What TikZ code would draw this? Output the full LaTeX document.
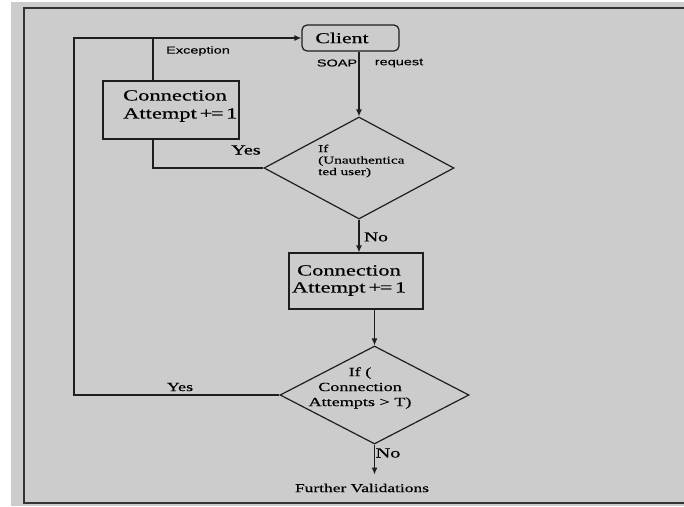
\documentclass[tikz,border=0pt]{standalone}
\usepackage{fontspec}
\usetikzlibrary{arrows.meta,shapes.geometric}
% wide Times/Arial-style faces
\newfontfamily\wserif{Liberation Serif}[FakeStretch=1.45,FakeBold=0.5]
\newfontfamily\wsans{Liberation Sans}[FakeStretch=1.45,FakeBold=0.3]
\newcommand{\fs}[2]{\fontsize{#1pt}{#2pt}\selectfont}
\newcommand{\incr}{Attempt\kern3pt+\kern-1.5pt=\kern2.5pt1}
\definecolor{panel}{HTML}{CCCCCC}
\definecolor{ink}{HTML}{1E1E1E}
\begin{document}
\begin{tikzpicture}[x=1pt,y=-1pt,
  conn/.style={draw=ink,line width=1.2pt},
  arr/.style={conn,-{Latex[length=7pt,width=6pt]}},
  procbox/.style={draw=ink,line width=1.2pt,rectangle,inner sep=0pt},
  decision/.style={draw=ink,line width=1.2pt,diamond,inner sep=0pt,shape aspect=1},
  lbl/.style={inner sep=0pt,text=black},
]
\useasboundingbox (0,0) rectangle (684,506);
% panel and frame
\fill[panel] (11,2) rectangle (684,506);
\draw[line width=2pt,draw=black!80] (684,8) -- (24,8) -- (24,503) -- (684,503);

% shapes
\node[procbox,rounded corners=5pt,minimum width=97pt,minimum height=26pt] (client) at (350.5,38) {};
\node[procbox,minimum width=136pt,minimum height=58pt] (box1) at (171,110) {};
\node[decision,minimum width=190pt,minimum height=102pt] (d1) at (359,168) {};
\node[procbox,minimum width=134pt,minimum height=56pt] (box2) at (356,281) {};
\node[decision,minimum width=189pt,minimum height=98pt] (d2) at (374.5,395) {};

% texts inside shapes
\node[lbl,font=\wserif\fs{15}{18}] (clientT) at (342,38) {Client};
\node[lbl,font=\wserif\fs{15.5}{18},anchor=west,align=left] (box1T) at (123,106) {Connection\\\incr};
\node[lbl,font=\wserif\fs{10.5}{11.5},anchor=west,align=left] (d1T) at (318,161) {If\\(Unauthentica\\ted user)};
\node[lbl,font=\wserif\fs{15.5}{17},align=center] (box2T) at (349,280.5) {Connection\\\incr};
\node[lbl,font=\wserif\fs{12.5}{15},align=center] (d2T) at (360,388) {If (\\Connection\\Attempts > T)};
\node[lbl,font=\wserif\fs{12}{14},inner ysep=9pt] (further) at (362,488) {Further Validations};

% edge labels
\node[lbl,font=\wsans\fs{10}{12}] (exc) at (198,51) {Exception};
\node[lbl,font=\wsans\fs{10}{12}] (soap) at (337,63) {SOAP};
\node[lbl,font=\wsans\fs{10}{12}] (req) at (399,63) {request};
\node[lbl,font=\wserif\fs{14}{16}] (yes1) at (246,150) {Yes};
\node[lbl,font=\wserif\fs{13.5}{16}] (no1) at (376,237) {No};
\node[lbl,font=\wserif\fs{14}{16}] (no2) at (388,453) {No};
\node[lbl,font=\wserif\fs{12.5}{15}] (yes2) at (180,387) {Yes};

% connectors
\coordinate (loop) at (74,40);
\draw[arr] (d1.north |- client.south) -- (d1.north);
\draw[conn] (d1.west) -| ([xshift=-18pt]box1.south);
\draw[conn] ([xshift=-18pt]box1.north) -- ([xshift=-18pt]box1.north |- client.west);
\draw[arr] (d1.south) -- (d1.south |- box2.north);
\draw[arr] (d2.north |- box2.south) -- (d2.north);
\draw[arr] (d2.west) -| (loop) |- (client.west);
\draw[arr] (d2.south) -- (d2.south |- further.north);
\end{tikzpicture}
\end{document}
